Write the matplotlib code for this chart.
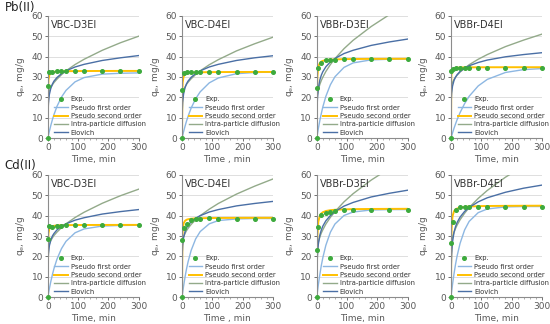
import matplotlib.pyplot as plt
from matplotlib.ticker import MultipleLocator

# sampling times (min)
t_exp = [0, 1, 5, 15, 30, 45, 60, 90, 120, 180, 240, 300]
t_fit = [0, 1, 2, 5, 10, 15, 20, 30, 45, 60, 90, 120, 180, 240, 300]

titles = ['VBC-D3EI', 'VBC-D4EI', 'VBBr-D3EI', 'VBBr-D4EI']
metals = ['Pb(II)', 'Cd(II)']
xlabels = ['Time, min', 'Time , min', 'Time, min', 'Time, min']

# ---- Pb(II) ----
exp_pb1 = [0, 25.5, 32.2, 32.6, 32.7, 32.7, 32.8, 32.7, 32.7, 32.7, 32.7, 32.7]
pfo_pb1 = [0, 0.7, 1.4, 3.3, 6.3, 9.0, 11.4, 15.5, 20.1, 23.4, 27.6, 29.7, 31.4, 31.8, 32.0]
pso_pb1 = [0, 25.0, 28.5, 31.0, 32.0, 32.3, 32.5, 32.65, 32.77, 32.83, 32.88, 32.91, 32.94, 32.96, 32.96]
ipd_pb1 = [19.2, 21.0, 21.7, 23.2, 24.8, 26.1, 27.2, 28.9, 31.1, 33.0, 36.1, 38.7, 43.1, 46.8, 50.0]
elo_pb1 = [0, 13.9, 17.1, 21.4, 24.6, 26.5, 27.9, 29.7, 31.6, 33.0, 34.9, 36.2, 38.1, 39.4, 40.5]

exp_pb2 = [0, 23.5, 32.0, 32.2, 32.3, 32.4, 32.5, 32.5, 32.5, 32.5, 32.5, 32.5]
pfo_pb2 = [0, 0.64, 1.27, 3.09, 5.89, 8.42, 10.7, 14.7, 19.3, 22.7, 27.1, 29.5, 31.6, 32.2, 32.4]
pso_pb2 = [0, 23.5, 27.3, 30.2, 31.3, 31.7, 31.9, 32.1, 32.2, 32.3, 32.36, 32.4, 32.44, 32.45, 32.46]
ipd_pb2 = [19.7, 21.4, 22.1, 23.5, 25.1, 26.4, 27.4, 29.1, 31.2, 33.0, 36.0, 38.5, 42.8, 46.3, 49.5]
elo_pb2 = [0, 14.2, 17.4, 21.6, 24.8, 26.7, 28.0, 29.8, 31.7, 33.0, 34.9, 36.2, 38.1, 39.4, 40.4]

exp_pb3 = [0, 24.5, 34.2, 36.8, 38.2, 38.3, 38.4, 38.7, 38.7, 38.7, 38.7, 38.7]
pfo_pb3 = [0, 0.96, 1.89, 4.56, 8.58, 12.1, 15.3, 20.5, 26.2, 30.1, 34.7, 36.9, 38.4, 38.7, 38.8]
pso_pb3 = [0, 25.0, 30.4, 35.1, 36.9, 37.6, 37.9, 38.3, 38.5, 38.6, 38.76, 38.8, 38.88, 38.9, 38.93]
ipd_pb3 = [17.5, 20.3, 21.4, 23.7, 26.3, 28.3, 29.9, 32.7, 36.1, 39.0, 43.9, 48.0, 54.8, 60.6, 65.7]
elo_pb3 = [0, 14.9, 19.0, 24.4, 28.5, 30.9, 32.6, 35.0, 37.4, 39.1, 41.5, 43.1, 45.5, 47.2, 48.6]

exp_pb4 = [0, 33.0, 34.0, 34.4, 34.5, 34.5, 34.6, 34.6, 34.6, 34.6, 34.6, 34.6]
pfo_pb4 = [0, 0.51, 1.02, 2.49, 4.81, 6.93, 8.94, 12.5, 16.9, 20.5, 25.6, 28.8, 32.2, 33.6, 34.1]
pso_pb4 = [0, 30.0, 32.2, 33.7, 34.2, 34.4, 34.5, 34.6, 34.7, 34.7, 34.75, 34.76, 34.77, 34.78, 34.78]
ipd_pb4 = [23.8, 25.4, 26.0, 27.3, 28.8, 29.9, 30.8, 32.4, 34.3, 36.0, 38.7, 41.0, 44.9, 48.1, 51.0]
elo_pb4 = [0, 19.1, 21.9, 25.5, 28.3, 29.9, 31.1, 32.7, 34.3, 35.5, 37.1, 38.3, 39.9, 41.0, 41.9]

# ---- Cd(II) ----
exp_cd1 = [0, 28.5, 34.7, 34.5, 34.8, 35.0, 35.2, 35.3, 35.3, 35.3, 35.3, 35.3]
pfo_cd1 = [0, 0.87, 1.72, 4.15, 7.8, 11.0, 13.9, 18.6, 23.8, 27.4, 31.6, 33.5, 34.9, 35.2, 35.3]
pso_cd1 = [0, 28.0, 31.3, 33.7, 34.6, 34.9, 35.0, 35.2, 35.3, 35.34, 35.4, 35.42, 35.45, 35.46, 35.47]
ipd_cd1 = [22.2, 24.0, 24.7, 26.2, 27.8, 29.1, 30.2, 31.9, 34.1, 36.0, 39.1, 41.7, 46.1, 49.8, 53.0]
elo_cd1 = [0, 18.2, 21.2, 25.2, 28.2, 30.0, 31.2, 33.0, 34.8, 36.0, 37.8, 39.0, 40.8, 42.0, 43.0]

exp_cd2 = [0, 28.0, 34.0, 35.8, 37.8, 38.2, 38.5, 38.7, 38.6, 38.6, 38.6, 38.6]
pfo_cd2 = [0, 1.14, 2.25, 5.37, 10.0, 14.0, 17.4, 22.9, 28.6, 32.2, 36.0, 37.6, 38.4, 38.6, 38.6]
pso_cd2 = [0, 28.0, 32.6, 36.2, 37.5, 38.0, 38.25, 38.5, 38.66, 38.75, 38.83, 38.87, 38.92, 38.94, 38.95]
ipd_cd2 = [25.4, 27.3, 28.1, 29.6, 31.3, 32.7, 33.8, 35.7, 38.0, 40.0, 43.2, 46.0, 50.6, 54.5, 58.0]
elo_cd2 = [0, 22.2, 25.2, 29.2, 32.2, 34.0, 35.2, 37.0, 38.8, 40.0, 41.8, 43.0, 44.8, 46.0, 47.0]

exp_cd3 = [0, 23.0, 34.5, 40.4, 41.5, 42.0, 42.5, 43.0, 43.0, 43.0, 43.0, 43.0]
pfo_cd3 = [0, 1.27, 2.5, 5.98, 11.1, 15.6, 19.4, 25.5, 31.9, 35.9, 40.1, 41.8, 42.8, 43.0, 43.0]
pso_cd3 = [0, 23.1, 30.2, 37.0, 40.0, 41.1, 41.7, 42.3, 42.7, 42.9, 43.1, 43.2, 43.3, 43.34, 43.37]
ipd_cd3 = [20.9, 23.6, 24.8, 27.0, 29.5, 31.5, 33.1, 35.9, 39.2, 42.0, 46.8, 50.8, 57.5, 63.2, 68.2]
elo_cd3 = [0, 15.4, 19.9, 25.9, 30.4, 33.0, 34.9, 37.5, 40.1, 42.0, 44.7, 46.5, 49.2, 51.0, 52.5]

exp_cd4 = [0, 26.5, 36.8, 42.7, 44.4, 44.4, 44.5, 44.5, 44.5, 44.5, 44.5, 44.5]
pfo_cd4 = [0, 1.32, 2.59, 6.19, 11.5, 16.1, 20.1, 26.4, 33.0, 37.2, 41.5, 43.3, 44.3, 44.5, 44.5]
pso_cd4 = [0, 27.0, 33.8, 39.7, 42.2, 43.1, 43.5, 44.0, 44.3, 44.5, 44.67, 44.75, 44.83, 44.87, 44.9]
ipd_cd4 = [23.5, 26.1, 27.2, 29.4, 31.8, 33.7, 35.3, 38.0, 41.2, 44.0, 48.5, 52.4, 58.9, 64.4, 69.2]
elo_cd4 = [0, 16.2, 20.9, 27.1, 31.9, 34.6, 36.6, 39.3, 42.1, 44.0, 46.8, 48.8, 51.5, 53.5, 55.0]

panels = [
    [(exp_pb1, pfo_pb1, pso_pb1, ipd_pb1, elo_pb1), (exp_pb2, pfo_pb2, pso_pb2, ipd_pb2, elo_pb2),
     (exp_pb3, pfo_pb3, pso_pb3, ipd_pb3, elo_pb3), (exp_pb4, pfo_pb4, pso_pb4, ipd_pb4, elo_pb4)],
    [(exp_cd1, pfo_cd1, pso_cd1, ipd_cd1, elo_cd1), (exp_cd2, pfo_cd2, pso_cd2, ipd_cd2, elo_cd2),
     (exp_cd3, pfo_cd3, pso_cd3, ipd_cd3, elo_cd3), (exp_cd4, pfo_cd4, pso_cd4, ipd_cd4, elo_cd4)],
]

c_exp = '#3DAA3D'
c_pfo = '#8DB7E2'
c_pso = '#FFC000'
c_ipd = '#93AA8A'
c_elo = '#4A6FA5'
grey = '#595959'

fig = plt.figure(figsize=(5.5, 3.24), dpi=100)
lefts = [0.087, 0.331, 0.576, 0.820]
bottoms = [0.574, 0.083]
w, h = 0.165, 0.377

for r in range(2):
    fig.text(0.008, 0.997 - r * 0.487, metals[r], fontsize=8.5, va='top', color='#222222')
    for c in range(4):
        exp, pfo, pso, ipd, elo = panels[r][c]
        ax = fig.add_axes([lefts[c], bottoms[r], w, h])
        ax.plot(t_fit, pfo, color=c_pfo, lw=1.0, label='Pseudo first order')
        ax.plot(t_fit, pso, color=c_pso, lw=1.4, label='Pseudo second order')
        ax.plot(t_fit, ipd, color=c_ipd, lw=1.0, label='Intra-particle diffusion')
        ax.plot(t_fit, elo, color=c_elo, lw=1.0, label='Elovich')
        ax.plot(t_exp, exp, 'o', ms=2.6, color=c_exp, label='Exp.', zorder=5, clip_on=False)

        ax.set_xlim(0, 300)
        ax.set_ylim(0, 60)
        ax.set_xticks([0, 100, 200, 300])
        ax.set_yticks(range(0, 61, 10))
        ax.xaxis.set_minor_locator(MultipleLocator(20))
        ax.grid(axis='y', color='#D9D9D9', lw=0.6)
        ax.set_axisbelow(True)
        for s in ['top', 'right']:
            ax.spines[s].set_visible(False)
        for s in ['left', 'bottom']:
            ax.spines[s].set_color('#8C8C8C')
            ax.spines[s].set_linewidth(0.8)
        ax.tick_params(labelsize=6.5, colors=grey, length=2, width=0.6, pad=1.5)
        ax.tick_params(which='minor', length=1.5, width=0.5, colors='#8C8C8C')
        ax.set_xlabel(xlabels[c], fontsize=6.5, color=grey, labelpad=2)
        ax.set_ylabel(r'q$_\mathregular{e}$, mg/g', fontsize=6.5, color=grey, labelpad=3)
        ax.text(0.03, 0.97, titles[c], transform=ax.transAxes, fontsize=7,
                va='top', ha='left', color='#333333')

        handles, labels = ax.get_legend_handles_labels()
        order = [4, 0, 1, 2, 3]
        ax.legend([handles[i] for i in order], [labels[i] for i in order],
                  loc='lower left', bbox_to_anchor=(0.02, -0.02), frameon=False,
                  fontsize=4.9, handlelength=2.0, handletextpad=0.4, numpoints=1,
                  labelspacing=0.35, borderpad=0.2, labelcolor='#333333')

fig.savefig('out.png', dpi=100)
